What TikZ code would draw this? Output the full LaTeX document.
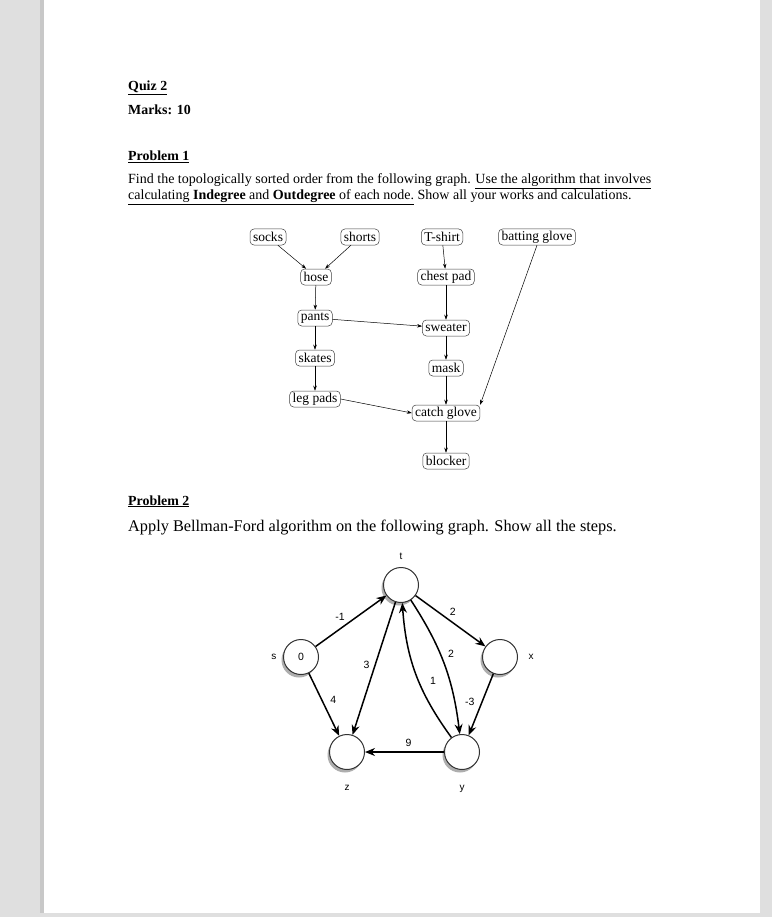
\documentclass[tikz,border=0pt]{standalone}
\usepackage{fontspec}
\setmainfont{Liberation Serif}
\newfontfamily\lsans{Liberation Sans}
\usetikzlibrary{arrows.meta,shadows}
\definecolor{pagegray}{RGB}{223,223,223}
\definecolor{edgegray}{RGB}{200,200,200}
\tikzset{
  head/.style={anchor=base west, inner sep=0pt, font=\fontsize{13.9}{15}\selectfont\bfseries},
  txt/.style={anchor=base west, inner sep=0pt, font=\fontsize{14}{15}\selectfont},
  bigtxt/.style={anchor=base west, inner sep=0pt, font=\fontsize{16.3}{18}\selectfont},
  gnode/.style={draw=black!75, line width=0.5pt, rounded corners=4pt, inner xsep=3pt, inner ysep=1pt,
     minimum height=16pt, font=\fontsize{13.5}{14}\selectfont},
  gedge/.style={line width=0.5pt, -{Stealth[length=5pt,width=3.5pt]}},
  cnode/.style={circle, draw=black!80, line width=1pt, fill=white, minimum size=35pt, inner sep=0pt,
     font=\lsans\fontsize{10.5}{11}\selectfont,
     drop shadow={shadow xshift=-2pt, shadow yshift=-3pt, fill=black!45, opacity=0.7}},
  cedge/.style={line width=1.5pt, -{Stealth[length=10pt,width=8pt]}},
  elab/.style={font=\lsans\fontsize{10.5}{11}\selectfont, inner sep=2pt},
  vlab/.style={font=\lsans\fontsize{10}{11}\selectfont},
}
\begin{document}
\begin{tikzpicture}[x=1pt,y=-1pt]
\path[use as bounding box] (0,0) rectangle (772,917);
% page background
\fill[pagegray] (0,0) rectangle (772,917);
\fill[edgegray] (40,0) rectangle (44,913);
\fill[white] (44,0) rectangle (760,913);

% header texts
\node[head] (quiz) at (128,91) {\underline{Quiz 2}};
\node[head] (marks) at (128,115) {Marks: 10};
\node[head] (p1) at (128,161) {\underline{Problem 1}};
\node[txt] (l1) at (128,184) {Find the topologically sorted order from the following graph. \underline{Use the algorithm that involves}};
\node[txt] (l2) at (128,200) {\underline{calculating \textbf{Indegree} and \textbf{Outdegree} of each node.} Show all your works and calculations.};

% graph 1
\node[gnode] (socks) at (268,237) {socks};
\node[gnode] (shorts) at (360,237) {shorts};
\node[gnode] (tshirt) at (442,237) {T-shirt};
\node[gnode] (bglove) at (537,237) {batting glove};
\node[gnode] (hose) at (316,277) {hose};
\node[gnode] (chest) at (446,277) {chest pad};
\node[gnode] (pants) at (315,318) {pants};
\node[gnode] (sweater) at (446,328) {sweater};
\node[gnode] (skates) at (315,358) {skates};
\node[gnode] (mask) at (446,368) {mask};
\node[gnode] (legpads) at (315,399) {leg pads};
\node[gnode] (cglove) at (446,413) {catch glove};
\node[gnode] (blocker) at (446,461) {blocker};

\draw[gedge] (socks) -- (hose);
\draw[gedge] (shorts) -- (hose);
\draw[gedge] (hose) -- (pants);
\draw[gedge] (pants) -- (skates);
\draw[gedge] (pants) -- (sweater);
\draw[gedge] (skates) -- (legpads);
\draw[gedge] (tshirt) -- (chest);
\draw[gedge] (chest) -- (sweater);
\draw[gedge] (sweater) -- (mask);
\draw[gedge] (mask) -- (cglove);
\draw[gedge] (legpads.east) -- (cglove.west);
\draw[gedge] (bglove.south) -- (cglove.north east);
\draw[gedge] (cglove) -- (blocker);

% problem 2
\node[head] (p2) at (128,505) {\underline{Problem 2}};
\node[bigtxt] (l3) at (128,531) {Apply Bellman-Ford algorithm on the following graph. Show all the steps.};

\node[cnode, label={[vlab,label distance=4pt]above:t}] (t) at (401,585) {};
\node[cnode, label={[vlab,label distance=3pt]left:s}] (s) at (301,657) {0};
\node[cnode, label={[vlab,label distance=7pt]right:x}] (x) at (500,657) {};
\node[cnode, label={[vlab,label distance=12pt]below:z}] (z) at (347,752) {};
\node[cnode, label={[vlab,label distance=12pt]below:y}] (y) at (462,752) {};

\draw[cedge] (s) -- node[elab, pos=0.45, above left] {-1} (t);
\draw[cedge] (t) -- node[elab, pos=0.45, above right] {2} (x);
\draw[cedge] (t) -- node[elab, pos=0.47, left=3pt] {3} (z);
\draw[cedge] (t) to[bend left=13] node[elab, pos=0.42, right=5pt] {2} (y);
\draw[cedge] (y) to[bend left=16] node[elab, pos=0.45, right=9pt] {1} (t);
\draw[cedge] (x) -- node[elab, pos=0.45, left=5pt] {-3} (y);
\draw[cedge] (s) -- node[elab, pos=0.42, right=6pt] {4} (z);
\draw[cedge] (y) -- node[elab, pos=0.45, above=3pt] {9} (z);
\end{tikzpicture}
\end{document}
